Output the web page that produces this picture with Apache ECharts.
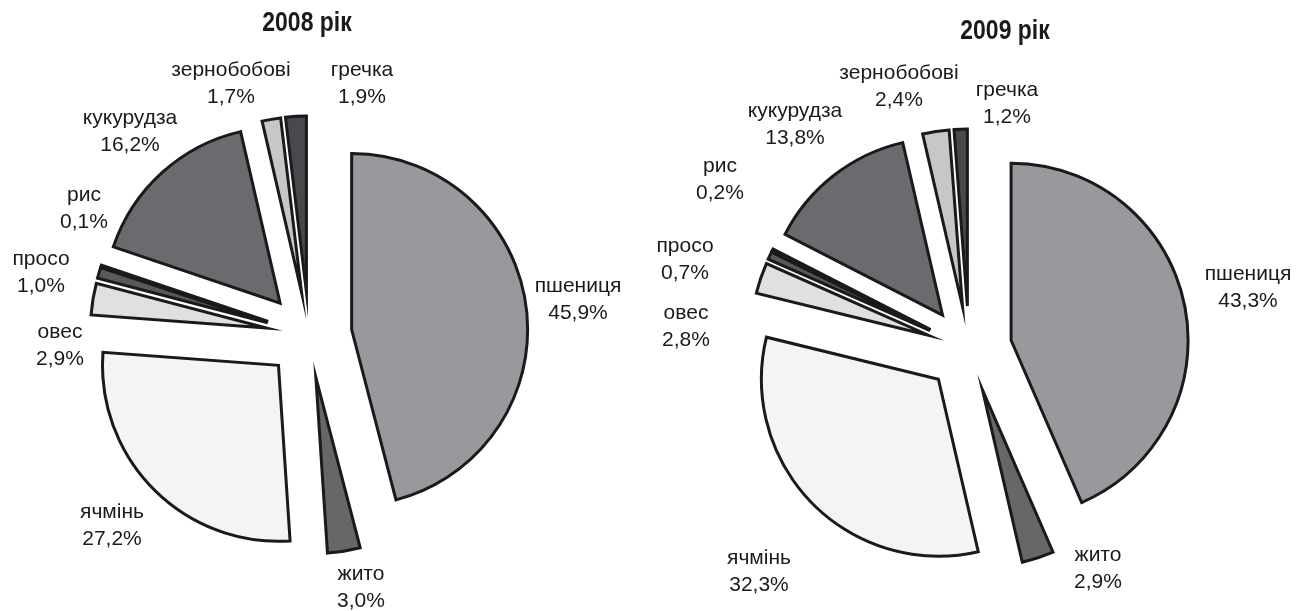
<!DOCTYPE html>
<html>
<head>
<meta charset="utf-8">
<script src="https://cdn.jsdelivr.net/npm/echarts@6/dist/echarts.min.js"></script>
<style>
html,body{margin:0;padding:0;background:#fff;}
#chart{width:1299px;height:611px;}
</style>
</head>
<body>
<div id="chart"></div>
<script>
// ---- data ----
const categories = ['пшениця', 'жито', 'ячмінь', 'овес', 'просо', 'рис', 'кукурудза', 'зернобобові', 'гречка'];
const values2008 = [45.9, 3.0, 27.2, 2.9, 1.0, 0.1, 16.2, 1.7, 1.9];
const values2009 = [43.3, 2.9, 32.3, 2.8, 0.7, 0.2, 13.8, 2.4, 1.2];
const titles = ['2008 рік', '2009 рік'];

// ---- styles / layout ----
const colors = ['#98999d', '#666769', '#f3f4f4', '#dfe0e2', '#58595c', '#2e2e30', '#6a6b6f', '#c6c7c9', '#48494c'];
const labelPos2008 = [[578, 300], [361, 588], [112, 526], [60, 346], [41, 273], [84, 209], [130, 132], [231, 84], [362, 84]];
const labelPos2009 = [[1248, 288], [1098, 569], [759, 572], [686, 327], [685, 260], [720, 180], [795, 125], [899, 87], [1007, 104]];
const titlePos = [[307, 23], [1005, 31]];
const FONT = '"Liberation Sans", Arial, sans-serif';

function fmt(v) { return v.toFixed(1).replace('.', ',') + '%'; }

function makeSeries(values, center, radius, offset) {
  return {
    type: 'pie',
    center: center,
    radius: radius,
    startAngle: 90,
    clockwise: true,
    selectedMode: 'multiple',
    selectedOffset: offset,
    avoidLabelOverlap: false,
    animation: false,
    emphasis: { disabled: true, scale: false },
    itemStyle: { borderColor: '#1a1a1a', borderWidth: 3, borderJoin: 'miter', borderMiterLimit: 20 },
    label: { show: false },
    labelLine: { show: false },
    data: categories.map((c, i) => ({
      name: c, value: values[i], selected: true,
      itemStyle: { color: colors[i] }
    }))
  };
}

function labelGraphics(values, positions) {
  return categories.map((c, i) => ({
    type: 'text',
    x: positions[i][0],
    y: positions[i][1],
    silent: true,
    style: {
      text: c + '\n' + fmt(values[i]),
      font: '21px ' + FONT,
      fill: '#1a1a1a',
      align: 'center',
      verticalAlign: 'middle',
      textAlign: 'center',
      textVerticalAlign: 'middle',
      lineHeight: 27
    }
  }));
}

const titleGraphics = titles.map((t, i) => ({
  type: 'text',
  x: titlePos[i][0],
  y: titlePos[i][1],
  scaleX: 0.82,
  silent: true,
  style: {
    text: t,
    font: 'bold 28px ' + FONT,
    fill: '#1a1a1a',
    align: 'center',
    verticalAlign: 'middle',
    textAlign: 'center',
    textVerticalAlign: 'middle'
  }
}));

const chart = echarts.init(document.getElementById('chart'), null, { renderer: 'canvas' });
chart.setOption({
  backgroundColor: '#ffffff',
  animation: false,
  series: [
    makeSeries(values2008, [309, 335], 176, 43),
    makeSeries(values2009, [969, 349], 177, 43)
  ],
  graphic: titleGraphics
    .concat(labelGraphics(values2008, labelPos2008))
    .concat(labelGraphics(values2009, labelPos2009))
});
</script>
</body>
</html>
